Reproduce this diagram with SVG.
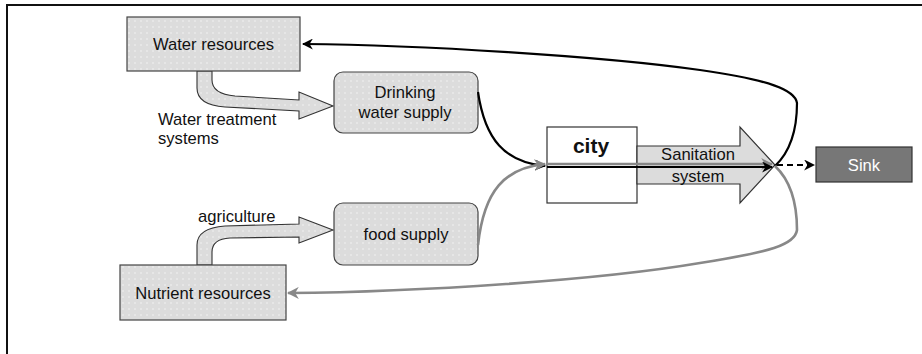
<svg xmlns="http://www.w3.org/2000/svg" width="922" height="354" viewBox="0 0 922 354">
<style>
text{font-family:"Liberation Sans",Arial,sans-serif;font-size:16.6px;fill:#111}
.node{fill:url(#dots);stroke:#444;stroke-width:1.2}
.hollow{fill:url(#dots);stroke:#333;stroke-width:1.1}
.blk{fill:none;stroke:#000;stroke-width:2.2}
.gry{fill:none;stroke:#888;stroke-width:2.6}
</style>
<defs>
<pattern id="dots" width="6" height="6" patternUnits="userSpaceOnUse">
<rect width="6" height="6" fill="#dcdcdc"/>
<circle cx="3" cy="3" r="0.8" fill="#f4f4f4"/>
</pattern>
<marker id="ab" viewBox="0 0 10 10" refX="9" refY="5" markerWidth="11" markerHeight="11" markerUnits="userSpaceOnUse" orient="auto">
<path d="M0,0 L10,5 L0,10 L3,5 Z" fill="#000"/>
</marker>
<marker id="ag" viewBox="0 0 10 10" refX="9" refY="5" markerWidth="12" markerHeight="12" markerUnits="userSpaceOnUse" orient="auto">
<path d="M0,0 L10,5 L0,10 L3,5 Z" fill="#888"/>
</marker>
</defs>
<rect width="922" height="354" fill="#fff"/>
<path d="M7,354 V5 H922" fill="none" stroke="#111" stroke-width="2"/>

<g id="water-treatment-arrow">
<path class="hollow" d="M197,71 L197,88 Q197,105 225,107 L299,111 L299,119 L333,106 L299,92 L299,100 L235,96 Q212,94 212,80 L212,71 Z"/>
<text x="158" y="125">Water treatment</text>
<text x="158" y="144">systems</text>
</g>
<g id="agriculture-arrow">
<path class="hollow" d="M197,265 L197,245 Q197,228 225,226 L299,224 L299,217 L333,230 L299,243 L299,237 L230,238 Q212,239 212,252 L212,265 Z"/>
<text x="198" y="222">agriculture</text>
</g>

<g id="water-resources">
<rect class="node" x="127" y="17" width="173" height="54"/>
<text x="213.5" y="50" text-anchor="middle">Water resources</text>
</g>
<g id="drinking-water-supply">
<rect class="node" x="334" y="72" width="144" height="61" rx="9"/>
<text x="405" y="98" text-anchor="middle">Drinking</text>
<text x="405" y="118" text-anchor="middle">water supply</text>
</g>
<g id="food-supply">
<rect class="node" x="334" y="203" width="144" height="62" rx="9"/>
<text x="406" y="240" text-anchor="middle">food supply</text>
</g>
<g id="nutrient-resources">
<rect class="node" x="120" y="265" width="166" height="55"/>
<text x="203" y="299" text-anchor="middle">Nutrient resources</text>
</g>
<g id="city">
<rect x="547" y="127" width="90" height="76" fill="#fff" stroke="#333" stroke-width="1.2"/>
<text x="591" y="153" text-anchor="middle" style="font-weight:bold;font-size:21px">city</text>
</g>
<g id="sanitation-system">
<path d="M637,146 L740,146 L740,127 L775,165 L740,203 L740,184 L637,184 Z" fill="#dcdcdc" stroke="#333" stroke-width="1.2"/>
<text x="698" y="160" text-anchor="middle">Sanitation</text>
<text x="698" y="182" text-anchor="middle">system</text>
</g>
<g id="sink">
<rect x="816" y="147" width="96" height="35" fill="#777" stroke="#333" stroke-width="1.2"/>
<text x="864" y="171" text-anchor="middle" style="fill:#fff">Sink</text>
</g>

<g id="connectors">
<path class="blk" d="M478,92 C485,140 505,162 545,166" marker-end="url(#ab)"/>
<path class="gry" d="M478,245 C484,190 505,168 545,164" marker-end="url(#ag)"/>
<path class="gry" d="M547,164 L772,164" marker-end="url(#ag)"/>
<path class="blk" d="M547,167 L772,167" marker-end="url(#ab)"/>
<path class="blk" d="M775,166 C792,150 797,125 797,103 C795,90 770,80 700,70 C600,56 420,45 303,44" marker-end="url(#ab)"/>
<path class="gry" d="M775,166 C792,182 797,205 797,230 C795,245 770,252 700,263 C600,280 420,292 288,293" marker-end="url(#ag)"/>
<path d="M777,165 L814,165" fill="none" stroke="#000" stroke-width="1.8" stroke-dasharray="6,4" marker-end="url(#ab)"/>
</g>
</svg>
